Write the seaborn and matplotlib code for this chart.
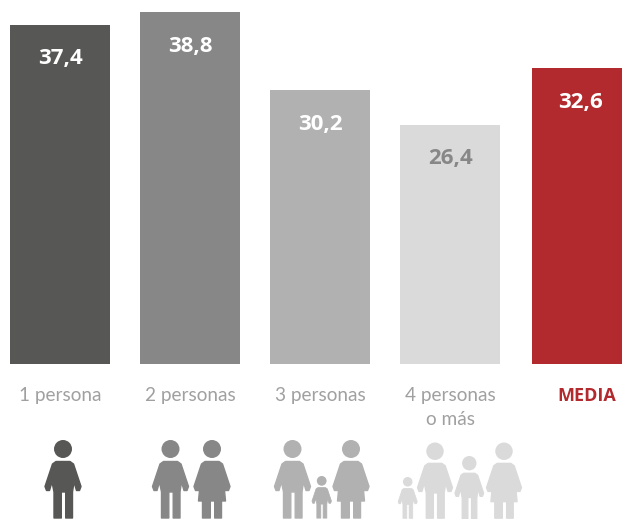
import numpy as np
import pandas as pd
import seaborn as sns
import matplotlib.pyplot as plt
from matplotlib.path import Path
from matplotlib.patches import PathPatch, Circle
from matplotlib.transforms import Affine2D, ScaledTranslation

categories = ["1 persona", "2 personas", "3 personas", "4 personas\no más", "MEDIA"]
values = [37.4, 38.8, 30.2, 26.4, 32.6]
value_labels = ["37,4", "38,8", "30,2", "26,4", "32,6"]
bar_colors = ["#575755", "#878787", "#b1b1b1", "#dadada", "#b2292e"]
value_colors = ["white", "white", "white", "#878787", "white"]

W, H = 622, 519
BASE_Y = 364
PX_PER_UNIT = 9.07

# person outlines, px relative to top of head, x around the centre
MAN = [(-7, 21.5), (7, 21.5), (10.5, 24), (18, 46.5), (16.5, 50.5), (13.5, 50.5), (11, 42), (9.5, 52),
       (9.5, 78), (2.7, 78), (2.7, 52), (-1.7, 52), (-1.7, 78), (-9, 78), (-9, 52), (-11, 42),
       (-13.5, 50.5), (-16.5, 50.5), (-18, 46.5), (-10.5, 24)]
WOMAN = [(-7, 21.5), (7, 21.5), (10.5, 24), (18, 46.5), (16.5, 50.5), (12.5, 50.5), (13.5, 61), (9.5, 61),
         (9.5, 78), (2.7, 78), (2.7, 61), (-1.7, 61), (-1.7, 78), (-9.5, 78), (-9.5, 61), (-13.5, 61),
         (-12.5, 50.5), (-16.5, 50.5), (-18, 46.5), (-10.5, 24)]

# kind, centre x, head top y, scale, colour
people = [
    (MAN, 63, 440, 1, "#575755"),
    (MAN, 170.5, 440, 1, "#878787"),
    (WOMAN, 212, 440, 1, "#878787"),
    (MAN, 292.5, 440, 1, "#b1b1b1"),
    (MAN, 321.7, 476, 0.54, "#b1b1b1"),
    (WOMAN, 351, 440, 1, "#b1b1b1"),
    (MAN, 407.7, 477, 0.53, "#dadada"),
    (MAN, 435, 442.5, 0.97, "#dadada"),
    (MAN, 469.3, 456, 0.8, "#dadada"),
    (WOMAN, 504, 442.5, 0.97, "#dadada"),
]


def draw_person(fig, shape, cx, top, scale, color):
    # pixel coords, y down
    px = Affine2D().scale(scale).translate(cx, top).scale(1 / W, -1 / H).translate(0, 1) + fig.transFigure
    verts = np.array(shape + [shape[0]])
    codes = [Path.MOVETO] + [Path.LINETO] * (len(shape) - 1) + [Path.CLOSEPOLY]
    body = PathPatch(Path(verts, codes), facecolor=color, edgecolor=color, lw=1.0 * scale,
                     joinstyle="round", transform=px)
    head = Circle((0, 9), 9, facecolor=color, edgecolor="none", transform=px)
    fig.add_artist(body)
    fig.add_artist(head)


sns.set_theme(style="white")
plt.rcParams["font.family"] = ["Lato", "DejaVu Sans"]

fig = plt.figure(figsize=(W / 100, H / 100), dpi=100)
ax = fig.add_axes([0, (H - BASE_Y) / H, 1, BASE_Y / H])
ax.patch.set_alpha(0)

df = pd.DataFrame({"cat": categories, "val": values})
sns.barplot(data=df, x="cat", y="val", hue="cat", palette=bar_colors, saturation=1,
            width=100 / 130, legend=False, linewidth=0, ax=ax)

ax.set_xlim(-60 / 130, (W - 60) / 130)
ax.set_ylim(0, BASE_Y / PX_PER_UNIT)
ax.set_xlabel("")
ax.set_ylabel("")
ax.set_yticks([])
ax.tick_params(axis="x", length=0, pad=16.5)
sns.despine(ax=ax, left=True, bottom=True, top=True, right=True)

# red bar sits a little further right than the regular spacing
ax.patches[4].set_x(ax.patches[4].get_x() + 2 / 130)

for i, (lab, col) in enumerate(zip(value_labels, value_colors)):
    ax.annotate(lab, (i, values[i]), xytext=(0.5, -34 * 0.72),
                textcoords="offset points", ha="center", va="center",
                fontsize=16, fontweight="bold", color=col, family=["Open Sans", "DejaVu Sans"])

for i, tl in enumerate(ax.get_xticklabels()):
    tl.set_color("#a0a0a0")
    tl.set_fontsize(13.7)
    tl.set_linespacing(1.5)
    if i == 4:
        tl.set_color("#b2292e")
        tl.set_fontweight("bold")
        tl.set_fontsize(13)
        tl.set_family(["Open Sans", "DejaVu Sans"])
        tl.set_transform(tl.get_transform() + ScaledTranslation(6.5 / 100, 0, fig.dpi_scale_trans))

for shape, cx, top, scale, color in people:
    draw_person(fig, shape, cx, top, scale, color)

fig.savefig("out.png", dpi=100)
